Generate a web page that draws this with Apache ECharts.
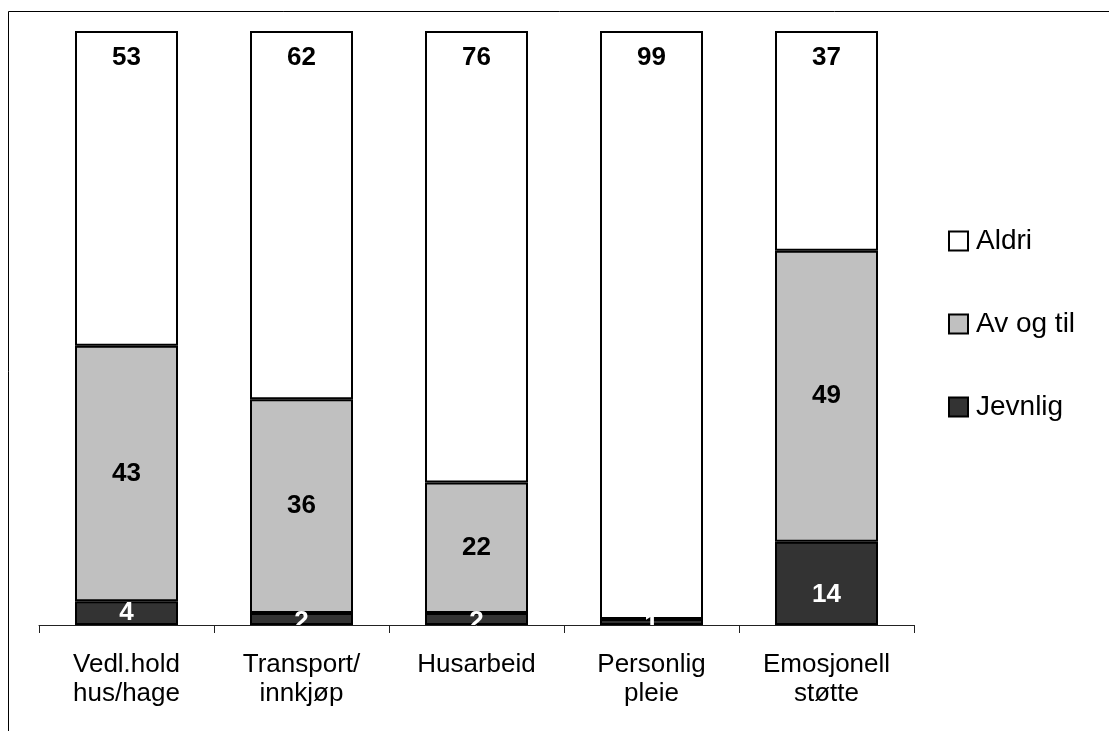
<!DOCTYPE html>
<html>
<head>
<meta charset="utf-8">
<script src="https://cdn.jsdelivr.net/npm/echarts@6/dist/echarts.min.js"></script>
<style>
html,body{margin:0;padding:0;background:#fff;}
#c{width:1109px;height:731px;}
</style>
</head>
<body>
<div id="c"></div>
<script>
const categories = ['Vedl.hold\nhus/hage', 'Transport/\ninnkjøp', 'Husarbeid', 'Personlig\npleie', 'Emosjonell\nstøtte'];
const jevnlig = [4, 2, 2, 1, 14];
const avOgTil = [43, 36, 22, 0, 49];
const aldri = [53, 62, 76, 99, 37];
const legendOrder = ['Aldri', 'Av og til', 'Jevnlig'];

const FONT = '"Liberation Sans", Arial, sans-serif';
const chart = echarts.init(document.getElementById('c'), null, {renderer: 'canvas'});

function labelCfg(color, extra) {
  return Object.assign({
    show: true,
    color: color,
    fontFamily: FONT,
    fontWeight: 'bold',
    fontSize: 26,
    formatter: p => (p.value === 0 ? '' : String(p.value))
  }, extra || {});
}

const jevnligData = jevnlig.map((v, i) => {
  const item = {value: v};
  if (v >= 10) item.label = {offset: [0, 11]};
  else if (v <= 2) item.label = {offset: [0, 3]};
  return item;
});

const common = {
  type: 'bar',
  stack: 'total',
  barWidth: 103,
  z: 2
};

chart.setOption({
  animation: false,
  backgroundColor: '#fff',
  graphic: [{
    type: 'rect',
    shape: {x: 8.5, y: 11.5, width: 1200, height: 800},
    style: {fill: 'none', stroke: '#000', lineWidth: 1},
    z: 0
  }],
  grid: {left: 39, width: 875, top: 31, height: 594, containLabel: false},
  legend: {
    orient: 'vertical',
    left: 948,
    top: 227,
    padding: 0,
    data: legendOrder,
    itemWidth: 19,
    itemHeight: 19,
    itemGap: 55,
    icon: 'rect',
    textStyle: {fontFamily: FONT, fontSize: 28, color: '#000', lineHeight: 28, padding: [0, 0, 0, 3]},
    selectedMode: false
  },
  xAxis: {
    type: 'category',
    data: categories,
    z: 10,
    axisLine: {lineStyle: {color: '#222', width: 1}},
    axisTick: {show: true, length: 8, lineStyle: {color: '#222', width: 1}},
    axisLabel: {
      color: '#000', fontFamily: FONT, fontSize: 26, lineHeight: 29, margin: 25, interval: 0
    }
  },
  yAxis: {
    type: 'value', min: 0, max: 100, show: false,
    splitLine: {show: false}
  },
  series: [
    Object.assign({}, common, {
      name: 'Jevnlig',
      data: jevnligData,
      itemStyle: {color: '#333333', borderColor: '#000', borderWidth: 2},
      label: labelCfg('#fff', {position: 'inside'})
    }),
    Object.assign({}, common, {
      name: 'Av og til',
      data: avOgTil,
      itemStyle: {color: '#c0c0c0', borderColor: '#000', borderWidth: 2},
      label: labelCfg('#000', {position: 'inside'})
    }),
    Object.assign({}, common, {
      name: 'Aldri',
      data: aldri,
      itemStyle: {color: '#ffffff', borderColor: '#000', borderWidth: 2},
      label: labelCfg('#000', {position: 'insideTop', distance: 14})
    })
  ]
});
</script>
</body>
</html>
